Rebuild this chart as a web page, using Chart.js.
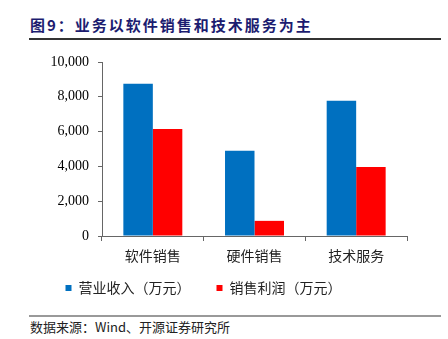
<!DOCTYPE html>
<html>
<head>
<meta charset="utf-8">
<script src="https://cdn.jsdelivr.net/npm/chart.js@4/dist/chart.umd.min.js"></script>
<style>
  html, body { margin: 0; padding: 0; background: #fff; }
  #wrap { position: relative; width: 448px; height: 339px; overflow: hidden; }
  #title {
    position: absolute; left: 30px; top: 14px;
    font: bold 15px "Noto Sans CJK SC", sans-serif; color: #1c1c70;
    letter-spacing: 2px; white-space: nowrap;
  }
  .rule { position: absolute; left: 29px; width: 412px; }
  #topRule { top: 38px; height: 2px; background: #333; }
  #bottomRule { top: 315px; height: 2px; background: #999; }
  #source {
    position: absolute; left: 30px; top: 317px;
    font: 13px "Noto Sans CJK SC", "Liberation Serif", serif; color: #222;
    white-space: nowrap;
  }
  #box { position: absolute; left: 0; top: 0; width: 448px; height: 305px; }
</style>
</head>
<body>
<div id="wrap">
  <div id="title">图9：业务以软件销售和技术服务为主</div>
  <div class="rule" id="topRule"></div>
  <div id="box"><canvas id="mainChart"></canvas></div>
  <div class="rule" id="bottomRule"></div>
  <div id="source">数据来源：Wind、开源证券研究所</div>
</div>
<script>
const categories = ["软件销售", "硬件销售", "技术服务"];
const revenue = [8750, 4900, 7780];
const profit = [6150, 870, 3960];
const seriesNames = ["营业收入（万元）", "销售利润（万元）"];
const yTicks = [0, 2000, 4000, 6000, 8000, 10000];

const ctx = document.getElementById("mainChart").getContext("2d");
new Chart(ctx, {
  type: "bar",
  data: {
    labels: categories,
    datasets: [
      { label: seriesNames[0], data: revenue, backgroundColor: "#0070C0" },
      { label: seriesNames[1], data: profit, backgroundColor: "#FF0000" }
    ]
  },
  options: {
    responsive: true,
    maintainAspectRatio: false,
    animation: false,
    layout: { padding: { top: 62, right: 41, left: 0, bottom: 0 } },
    datasets: { bar: { categoryPercentage: 0.58, barPercentage: 1 } },
    plugins: {
      tooltip: { enabled: false },
      legend: {
        position: "bottom",
        labels: {
          boxWidth: 6, boxHeight: 6, padding: 26,
          color: "#222",
          font: { family: "Noto Sans CJK SC", size: 14 }
        }
      }
    },
    scales: {
      x: {
        grid: { drawOnChartArea: false, tickLength: 5, color: "#666", offset: true },
        border: { color: "#666", width: 1 },
        ticks: { color: "#222", padding: 6, font: { family: "Noto Sans CJK SC", size: 14 } },
        afterFit: (scale) => {
          // short axis box; let the labels hang below it instead of clipping them
          scale.height = 19;
          scale._computeLabelArea = () => undefined;
        }
      },
      y: {
        min: 0, max: 10000,
        afterBuildTicks: (scale) => { scale.ticks = yTicks.map(v => ({ value: v })); },
        grid: { drawOnChartArea: false, tickLength: 4, color: "#666" },
        border: { color: "#666", width: 1 },
        ticks: {
          color: "#000", padding: 9,
          font: { family: "Liberation Serif", size: 14 },
          callback: (v) => v.toLocaleString("en-US")
        },
        afterFit: (scale) => { scale.width = 102; }
      }
    }
  }
});
</script>
</body>
</html>
